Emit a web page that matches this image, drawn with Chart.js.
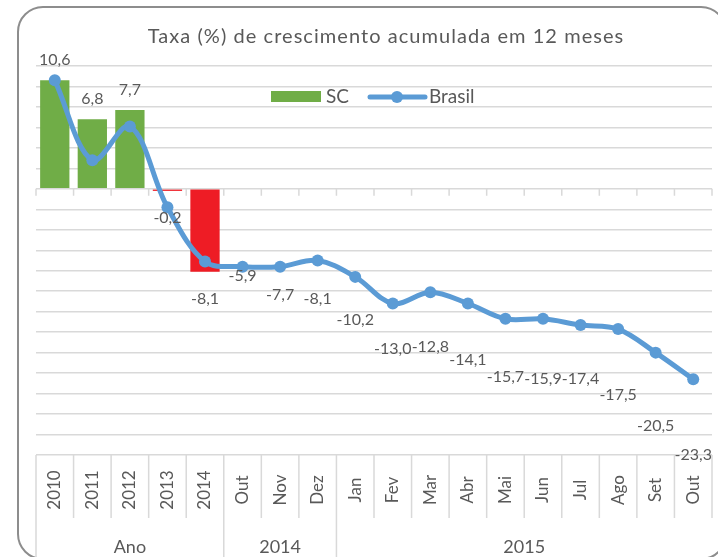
<!DOCTYPE html>
<html>
<head>
<meta charset="utf-8">
<script src="https://cdn.jsdelivr.net/npm/chart.js@4"></script>
<style>
    html, body { margin: 0; padding: 0; background: #fff; }
    #frame {
        position: absolute; left: 17px; top: 6px; width: 710px; height: 554px;
        border: 2px solid #8d8d8d; border-radius: 26px; box-sizing: border-box;
    }
    #wrap { position: absolute; left: 0; top: 0; width: 718px; height: 557px; }
</style>
</head>
<body>
<div id="frame"></div>
<div id="wrap"><canvas id="growth-chart" width="718" height="557"></canvas></div>
<script>
const CATEGORIES = ["2010", "2011", "2012", "2013", "2014", "Out", "Nov", "Dez", "Jan", "Fev", "Mar", "Abr", "Mai", "Jun", "Jul", "Ago", "Set", "Out"];
const GROUP_LABELS = ["Ano", "2014", "2015"];
const GROUP_SIZES = [5, 3, 10];
const SC_VALUES = [10.6, 6.8, 7.7, -0.2, -8.1, -5.9, -7.7, -8.1, -10.2, -13.0, -12.8, -14.1, -15.7, -15.9, -17.4, -17.5, -20.5, -23.3];
const BRASIL_VALUES = [10.6, 2.8, 6.1, -1.8, -7.1, -7.6, -7.6, -7.0, -8.6, -11.2, -10.1, -11.2, -12.7, -12.7, -13.3, -13.7, -16.0, -18.6];
const Y_MIN = -26;
const Y_MAX = 12;
const Y_STEP = 2;

const TEXT = "#595959";
const GRID = "#d9d9d9";
const GREEN = "#70ad47";
const RED = "#ee1c25";
const BLUE = "#5b9bd5";
const FONT = "Lato, 'Open Sans', sans-serif";

// only the yearly bars are filled, the monthly SC values show as labels
const barColors = SC_VALUES.map((v, i) =>
    i >= GROUP_SIZES[0] ? "rgba(0,0,0,0)" : v >= 0 ? GREEN : RED,
);

// the Jul label sits one row higher in the original (moved to dodge Ago)
const labelNudge = { 14: -15 };

const fmt = (v) => v.toFixed(1).replace(".", ",");

const excelDecor = {
    id: "excelDecor",
    beforeDatasetsDraw(chart) {
        const { ctx, chartArea: a, scales: { x, y } } = chart;
        const step = x.getPixelForValue(1) - x.getPixelForValue(0);
        const y0 = y.getPixelForValue(0);
        ctx.save();
        ctx.strokeStyle = GRID;
        ctx.lineWidth = 1.5;
        ctx.beginPath();
        for (let i = 0; i <= CATEGORIES.length; i++) {
            const bx = a.left + i * step;
            ctx.moveTo(bx, y0);
            ctx.lineTo(bx, y0 + 7);
        }
        ctx.stroke();
        ctx.restore();
    },
    afterDatasetsDraw(chart) {
        const { ctx } = chart;
        const bars = chart.getDatasetMeta(1).data;
        ctx.save();
        ctx.font = "16px " + FONT;
        ctx.fillStyle = TEXT;
        ctx.textAlign = "center";
        ctx.textBaseline = "middle";
        bars.forEach((bar, i) => {
            const v = SC_VALUES[i];
            const ly = (v >= 0 ? bar.y - 20 : bar.y + 27) + (labelNudge[i] || 0);
            ctx.fillText(fmt(v), bar.x, ly);
        });
        ctx.restore();
    },
    afterDraw(chart) {
        const { ctx, chartArea: a, scales: { x } } = chart;
        const step = x.getPixelForValue(1) - x.getPixelForValue(0);
        ctx.save();

        // title
        ctx.fillStyle = TEXT;
        ctx.font = "20px " + FONT;
        ctx.letterSpacing = "1.05px";
        ctx.textAlign = "center";
        ctx.textBaseline = "middle";
        ctx.fillText("Taxa (%) de crescimento acumulada em 12 meses", 386, 37);
        ctx.letterSpacing = "0px";

        // legend
        ctx.font = "19px " + FONT;
        ctx.textAlign = "left";
        ctx.fillStyle = GREEN;
        ctx.fillRect(271, 91, 50, 11);
        ctx.fillStyle = TEXT;
        ctx.fillText("SC", 326, 97);
        ctx.strokeStyle = BLUE;
        ctx.lineWidth = 5;
        ctx.lineCap = "round";
        ctx.beginPath();
        ctx.moveTo(370, 97);
        ctx.lineTo(425, 97);
        ctx.stroke();
        ctx.fillStyle = BLUE;
        ctx.beginPath();
        ctx.arc(397, 97, 6, 0, Math.PI * 2);
        ctx.fill();
        ctx.fillStyle = TEXT;
        ctx.fillText("Brasil", 429, 97);

        // category table under the plot
        const top = a.bottom;
        const inner = top + 63;
        const bottom = chart.height;
        ctx.strokeStyle = GRID;
        ctx.lineWidth = 1.5;
        ctx.lineCap = "butt";
        const groupEdges = [0];
        GROUP_SIZES.reduce((s, n) => (groupEdges.push(s + n), s + n), 0);
        ctx.beginPath();
        for (let i = 0; i <= CATEGORIES.length; i++) {
            const bx = a.left + i * step;
            const full = groupEdges.includes(i) && i < CATEGORIES.length;
            ctx.moveTo(bx, top);
            ctx.lineTo(bx, full ? bottom : inner);
        }
        ctx.stroke();

        ctx.fillStyle = TEXT;
        ctx.font = "17px " + FONT;
        ctx.textAlign = "center";
        CATEGORIES.forEach((c, i) => {
            ctx.save();
            ctx.translate(x.getPixelForValue(i), top + 35);
            ctx.rotate(-Math.PI / 2);
            ctx.fillText(c, 0, 0);
            ctx.restore();
        });

        ctx.font = "18px " + FONT;
        GROUP_LABELS.forEach((g, k) => {
            const cx = a.left + ((groupEdges[k] + groupEdges[k + 1]) / 2) * step;
            ctx.fillText(g, cx, 547);
        });
        ctx.restore();
    },
};

function makeChart(id) {
    const ctx = document.getElementById(id)?.getContext("2d");
    if (!ctx) return;
    return new Chart(ctx, {
        data: {
            labels: CATEGORIES,
            datasets: [
                {
                    type: "line",
                    label: "Brasil",
                    data: BRASIL_VALUES,
                    borderColor: BLUE,
                    backgroundColor: BLUE,
                    borderWidth: 5,
                    pointRadius: 6,
                    pointHoverRadius: 6,
                    pointBorderWidth: 0,
                    tension: 0.35,
                    order: 0,
                },
                {
                    type: "bar",
                    label: "SC",
                    data: SC_VALUES,
                    backgroundColor: barColors,
                    categoryPercentage: 0.78,
                    barPercentage: 1,
                    order: 1,
                },
            ],
        },
        options: {
            responsive: false,
            animation: false,
            layout: { padding: { left: 36, right: 3, top: 66, bottom: 102 } },
            scales: {
                x: { display: false },
                y: {
                    min: Y_MIN,
                    max: Y_MAX,
                    ticks: { stepSize: Y_STEP, display: false },
                    grid: { color: GRID, lineWidth: 1.5, drawTicks: false },
                    border: { display: false },
                },
            },
            plugins: {
                legend: { display: false },
                tooltip: { enabled: false },
            },
        },
        plugins: [excelDecor],
    });
}

makeChart("growth-chart");
</script>
</body>
</html>
